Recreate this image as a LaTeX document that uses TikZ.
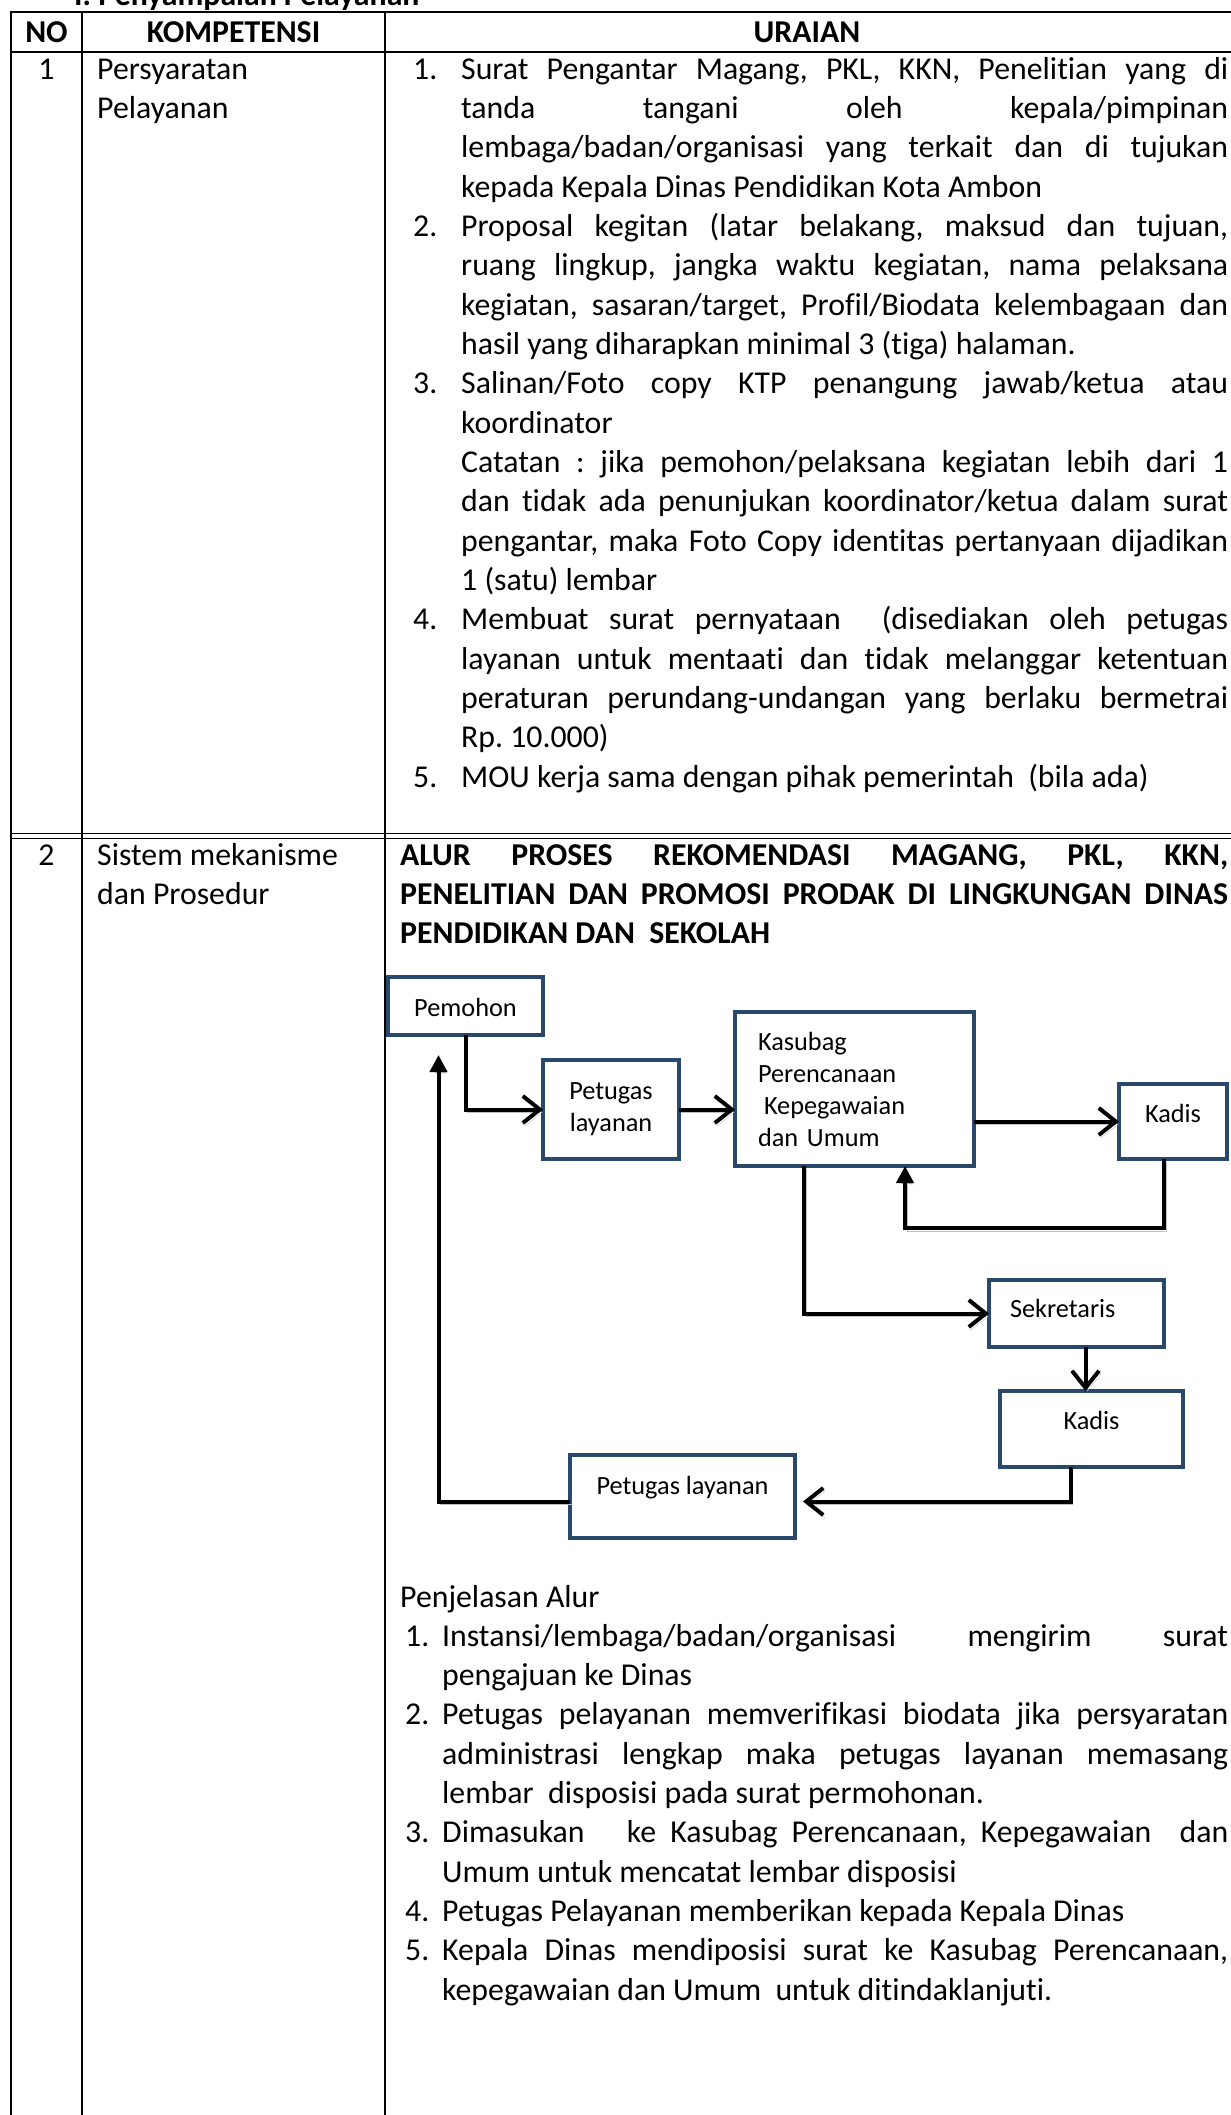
\documentclass[tikz,border=0pt]{standalone}
\usepackage{fontspec}
\setmainfont{Carlito}[Ligatures={NoCommon}]
\usetikzlibrary{arrows.meta}
\definecolor{boxblue}{RGB}{42,72,108}
\newcommand{\jline}[4]{\node[txt] (#1) at (#2,#3) {\makebox[\dimexpr1228pt-#2pt\relax][s]{#4}};}
\newcommand{\lline}[4]{\node[txt] (#1) at (#2,#3) {#4};}
\newcommand{\ctrline}[4]{\node[ctxt] (#1) at (#2,#3) {#4};}
\frenchspacing

\begin{document}
\begin{tikzpicture}[x=1pt,y=-1pt,
    every node/.style={font=\fontsize{31.8}{39.3}\selectfont},
    txt/.style={anchor=base west,inner sep=0pt},
    ctxt/.style={anchor=base,inner sep=0pt},
    tline/.style={line width=2.8pt},
    dline/.style={line width=1.6pt},
    flowbox/.style={draw=boxblue,line width=4pt,inner sep=0pt,outer sep=0pt,anchor=north west,font=\fontsize{26.3}{32}\selectfont},
    conn/.style={line width=4pt,preaction={draw=black!25,transform canvas={shift={(2pt,-3pt)}}}},
    openhead/.style={-{Straight Barb[length=17pt,width=27pt]}},
    fillhead/.style={-{Triangle[length=17pt,width=17pt]}}]
        \useasboundingbox (0,0) rectangle (1231,2115);

        % table lines
        \draw[tline] (9.6,12) -- (1240,12);
        \draw[tline] (11,52) -- (1240,52);
        \draw[dline] (11,833.5) -- (1240,833.5);
        \draw[dline] (11,838.5) -- (1240,838.5);
        \draw[tline] (11,10.6) -- (11,2130);
        \draw[tline] (82,12) -- (82,2130);
        \draw[tline] (385,12) -- (385,2130);
        \draw[tline] (1237,12) -- (1237,2130);

        % title
        \lline{title}{74}{5}{\bfseries I. Penyampaian Pelayanan}
        % header
        \ctrline{hno}{46.5}{42}{\bfseries NO}
        \ctrline{hkomp}{233.5}{42}{\bfseries KOMPETENSI}
        \ctrline{hur}{807}{42}{\bfseries URAIAN}

        % row1
        \ctrline{no1}{46.5}{79}{1}
        \lline{komp1a}{97}{79}{Persyaratan}
        \lline{komp1b}{97}{118.3}{Pelayanan}
        \lline{n1}{413}{79}{1.}
        \jline{a0}{461}{79}{Surat Pengantar Magang, PKL, KKN, Penelitian yang di}
        \jline{a1}{461}{118.3}{tanda tangani oleh kepala/pimpinan}
        \jline{a2}{461}{157.7}{lembaga/badan/organisasi yang terkait dan di tujukan}
        \lline{a3}{461}{197}{kepada Kepala Dinas Pendidikan Kota Ambon}
        \lline{n2}{413}{236.3}{2.}
        \jline{a4}{461}{236.3}{Proposal kegitan (latar belakang, maksud dan tujuan,}
        \jline{a5}{461}{275.7}{ruang lingkup, jangka waktu kegiatan, nama pelaksana}
        \jline{a6}{461}{315}{kegiatan, sasaran/target, Profil/Biodata kelembagaan dan}
        \lline{a7}{461}{354.3}{hasil yang diharapkan minimal 3 (tiga) halaman.}
        \lline{n3}{413}{393.6}{3.}
        \jline{a8}{461}{393.6}{Salinan/Foto copy KTP penangung jawab/ketua atau}
        \lline{a9}{461}{433}{koordinator}
        \jline{a10}{461}{472.3}{Catatan : jika pemohon/pelaksana kegiatan lebih dari 1}
        \jline{a11}{461}{511.6}{dan tidak ada penunjukan koordinator/ketua dalam surat}
        \jline{a12}{461}{551}{pengantar, maka Foto Copy identitas pertanyaan dijadikan}
        \lline{a13}{461}{590.3}{1 (satu) lembar}
        \lline{n4}{413}{629.6}{4.}
        \jline{a14}{461}{629.6}{Membuat surat pernyataan \ (disediakan oleh petugas}
        \jline{a15}{461}{669}{layanan untuk mentaati dan tidak melanggar ketentuan}
        \jline{a16}{461}{708.3}{peraturan perundang-undangan yang berlaku bermetrai}
        \lline{a17}{461}{747.6}{Rp. 10.000)}
        \lline{n5}{413}{787}{5.}
        \lline{a18}{461}{787}{MOU kerja sama dengan pihak pemerintah~ (bila ada)}

        % row2
        \ctrline{no2}{46.5}{865}{2}
        \lline{komp2a}{97}{865}{Sistem mekanisme}
        \lline{komp2b}{97}{904.3}{dan Prosedur}
        \jline{h0}{400}{865}{\bfseries ALUR PROSES REKOMENDASI MAGANG, PKL, KKN,}
        \jline{h1}{400}{904.3}{\bfseries PENELITIAN DAN PROMOSI PRODAK DI LINGKUNGAN DINAS}
        \lline{h2}{400}{943.6}{\bfseries PENDIDIKAN DAN~ SEKOLAH}

        % flow
        \node[flowbox,minimum width=155pt,text height=39pt,text depth=19pt] (pemohon) at (388,977) {Pemohon};
        \node[flowbox,minimum width=136pt,minimum height=99pt,align=center] (petugasA) at (543,1060) {Petugas\\layanan};
        \node[flowbox,text width=193pt,inner xsep=23pt,minimum height=154pt,align=left] (kasubag) at (735,1012) {Kasubag\\Perencanaan\\\hspace*{6pt}Kepegawaian\\dan Umum};
        \node[flowbox,minimum width=108pt,text height=38.5pt,text depth=36.5pt] (kadisA) at (1119,1084) {Kadis};
        \node[flowbox,text height=37.5pt,text depth=29.5pt] (sekretaris) at (989,1280) {\makebox[175pt][l]{\hspace{21pt}Sekretaris}};
        \node[flowbox,minimum width=183pt,text height=38.5pt,text depth=37.5pt] (kadisB) at (1000,1391) {Kadis};
        \node[flowbox,minimum width=225pt,text height=39pt,text depth=44pt] (petugasB) at (570,1455) {Petugas layanan};
        \coordinate (kadisturn) at (905,1228);

        % arrows
        \draw[conn,openhead] (pemohon.south) |- (petugasA.west);
        \draw[conn,openhead] (petugasA.east) -- (petugasA.east -| kasubag.west);
        \draw[conn,openhead] (kadisA.west -| kasubag.east) -- (kadisA.west);
        \draw[conn,fillhead] ([xshift=-9pt]kadisA.south) |- (kadisturn) -- (kadisturn |- kasubag.south);
        \draw[conn,openhead] ([xshift=69pt]kasubag.south west) |- (sekretaris.west);
        \draw[conn,openhead] ([xshift=9pt]sekretaris.south) -- ([xshift=9pt]sekretaris.south |- kadisB.north);
        \draw[conn,openhead] ([xshift=-21pt]kadisB.south) |- ([xshift=8pt,yshift=-5pt]petugasB.east);
        \draw[conn,fillhead] ([yshift=-5pt]petugasB.west) -| ([xshift=-27pt,yshift=-20pt]pemohon.south);

        % penjelasan
        \lline{p0}{400}{1607}{Penjelasan Alur}
        \lline{m1}{405}{1646.3}{1.}
        \jline{p1}{442}{1646.3}{Instansi/lembaga/badan/organisasi mengirim surat}
        \lline{p2}{442}{1685.6}{pengajuan ke Dinas}
        \lline{m2}{405}{1724.9}{2.}
        \jline{p3}{442}{1724.9}{Petugas pelayanan memverifikasi biodata jika persyaratan}
        \jline{p4}{442}{1764.2}{administrasi lengkap maka petugas layanan memasang}
        \lline{p5}{442}{1803.5}{lembar~ disposisi pada surat permohonan.}
        \lline{m3}{405}{1842.8}{3.}
        \jline{p6}{442}{1842.8}{Dimasukan \ \ ke Kasubag Perencanaan, Kepegawaian \ dan}
        \lline{p7}{442}{1882.1}{Umum untuk mencatat lembar disposisi}
        \lline{m4}{405}{1921.4}{4.}
        \lline{p8}{442}{1921.4}{Petugas Pelayanan memberikan kepada Kepala Dinas}
        \lline{m5}{405}{1960.7}{5.}
        \jline{p9}{442}{1960.7}{Kepala Dinas mendiposisi surat ke Kasubag Perencanaan,}
        \lline{p10}{442}{2000}{kepegawaian dan Umum~ untuk ditindaklanjuti.}

\end{tikzpicture}
\end{document}
